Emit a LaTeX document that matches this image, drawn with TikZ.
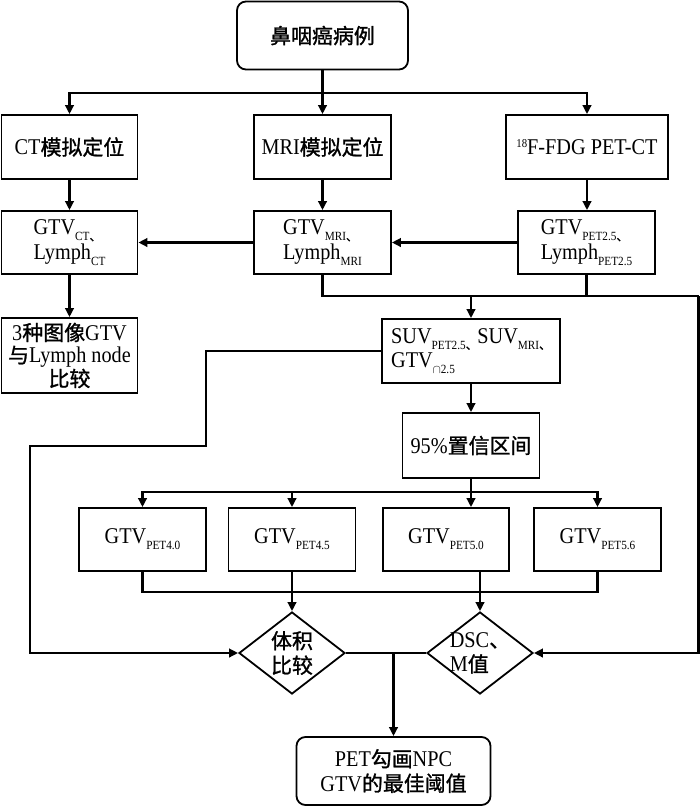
\documentclass[tikz,border=0pt]{standalone}
\usepackage{fontspec}
\setmainfont[FakeStretch=0.9]{Liberation Serif}
\newfontfamily\cjk[Scale=0.93,FakeBold=1.2]{Noto Sans CJK SC}
\usetikzlibrary{arrows.meta,shapes.geometric}
\newcommand\sbs[1]{\raisebox{-6pt}{\fontsize{12.5}{12.5}\selectfont #1}}
\newcommand\sps[1]{\raisebox{6.5pt}{\fontsize{12}{12}\selectfont #1}}
\newcommand\zh[1]{{\cjk #1}}
\begin{document}
\begin{tikzpicture}[x=1pt,y=-1pt,
  every node/.style={font=\fontsize{22.5}{24.5}\selectfont, inner sep=0pt},
  box/.style={draw, line width=1.8pt},
  rbox/.style={box, rounded corners=9pt},
  dia/.style={draw, diamond, line width=1.8pt, minimum width=106pt, minimum height=82pt, inner sep=0pt},
  conn/.style={line width=2.3pt},
  arr/.style={conn, -{Triangle[length=9pt,width=8.5pt]}}]
\useasboundingbox (0,0) rectangle (700,807);
% nodes
\node[rbox, minimum width=171pt, minimum height=68pt] (top) at (322.5,35.5) {\zh{鼻咽癌病例}};
\node[box, minimum width=136pt, minimum height=64pt] (ct) at (69.5,147) {CT\zh{模拟定位}};
\node[box, minimum width=137pt, minimum height=64pt] (mri) at (322.5,147) {MRI\zh{模拟定位}};
\node[box, minimum width=162pt, minimum height=64pt] (pet) at (587,147) {\sps{18}F-FDG PET-CT};
\node[box, minimum width=136pt, minimum height=63pt, align=left] (gct) at (69.5,242.5) {GTV\sbs{CT\zh{、}}\\Lymph\sbs{CT}};
\node[box, minimum width=137pt, minimum height=63pt, align=left] (gmri) at (322.5,242.5) {GTV\sbs{MRI\zh{、}}\\Lymph\sbs{MRI}};
\node[box, minimum width=137pt, minimum height=63pt, align=left] (gpet) at (586.5,242.5) {GTV\sbs{PET2.5\zh{、}}\\Lymph\sbs{PET2.5}};
\node[box, minimum width=136pt, minimum height=75pt, align=center, font=\fontsize{22.5}{22.5}\selectfont] (cmp) at (69.5,355.5) {3\zh{种图像}GTV\\\zh{与}Lymph node\\\zh{比较}};
\node[box, minimum width=178pt, minimum height=64pt, align=left] (suv) at (471,351) {SUV\sbs{PET2.5\zh{、}}SUV\sbs{MRI\zh{、}}\\GTV\sbs{$\cap$2.5}};
\node[box, minimum width=137pt, minimum height=65pt] (ci) at (471,445.5) {95\%\zh{置信区间}};
\node[box, minimum width=127pt, minimum height=63pt] (g1) at (142.5,539.5) {GTV\sbs{PET4.0}};
\node[box, minimum width=127pt, minimum height=63pt] (g2) at (292,539.5) {GTV\sbs{PET4.5}};
\node[box, minimum width=126pt, minimum height=63pt] (g3) at (446,539.5) {GTV\sbs{PET5.0}};
\node[box, minimum width=127pt, minimum height=63pt] (g4) at (597.5,539.5) {GTV\sbs{PET5.6}};
\node[dia] (d1) at (292,653) {};
\node[align=center] (d1t) at (d1.center) {\zh{体积}\\\zh{比较}};
\node[dia] (d2) at (480,653) {};
\node[align=left] (d2t) at (d2.center) {DSC\zh{、}\\M\zh{值}};
\node[rbox, minimum width=194pt, minimum height=68pt, align=center] (fin) at (393.5,771) {PET\zh{勾画}NPC\\GTV\zh{的最佳阈值}};
% junctions
\coordinate (j0) at (322.5,93);
\coordinate (jr) at (698.6,296);
\coordinate (la) at (206,446);
\coordinate (lb) at (30,446);
\coordinate (jc) at (471,492);
\coordinate (jbot) at (292,592);
% connectors
\draw[arr] (top.south) -- (mri.north);
\draw[arr] (j0) -| (ct.north);
\draw[arr] (j0) -| (pet.north);
\draw[arr] (ct) -- (gct);
\draw[arr] (mri) -- (gmri);
\draw[arr] (pet.south) -- (pet.south |- gpet.north);
\draw[arr] (gpet) -- (gmri);
\draw[arr] (gmri) -- (gct);
\draw[arr] (gct) -- (cmp);
\draw[conn] (gmri.south) |- (jr);
\draw[conn] (gpet.south) -- (gpet.south |- jr);
\draw[arr] (suv.north |- jr) -- (suv.north);
\draw[arr] (jr) |- (d2.east);
\draw[arr] (suv.west) -| (la) -- (lb) |- (d1.west);
\draw[arr] (suv) -- (ci);
\draw[arr] (ci.south) -- (ci.south |- g3.north);
\draw[arr] (jc) -| (g1.north);
\draw[arr] (jc) -| (g2.north);
\draw[arr] (jc) -| (g4.north);
\draw[conn] (g1.south) |- (jbot) -| (g4.south);
\draw[arr] (g2.south) -- (d1.north);
\draw[arr] (d2.north |- g3.south) -- (d2.north);
\draw[conn] (d1.east) -- (d2.west);
\draw[arr] (fin.north |- d1.east) -- (fin.north);
\end{tikzpicture}
\end{document}
